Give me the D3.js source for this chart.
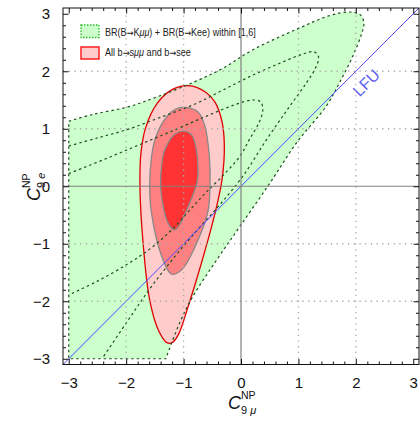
<!DOCTYPE html>
<html>
<head>
<meta charset="utf-8">
<title>C9 mu vs C9 e</title>
<script src="https://cdn.jsdelivr.net/npm/d3@7"></script>
<style>
  body { margin: 0; background: #fff; }
  svg { font-family: "Liberation Sans", Arial, sans-serif; }
  .tick text { font-size: 15px; fill: #111; }
  .tick line { stroke: #111; }
  .arrow { font-family: "DejaVu Sans", sans-serif; }
</style>
</head>
<body>
<svg id="chart" width="420" height="425"></svg>
<script>
// ---- data ----
var majorTicks = [-3, -2, -1, 0, 1, 2, 3];
var gridValues = [-2, -1, 1, 2];
var lfuRange = [-3.1, 3.1];

// BR(B->K mu mu) + BR(B->K e e) band, curved part of the outline
var brOuter = [[-3,1.13],[-2.58,1.25],[-1.97,1.38],[-1.42,1.57],[-0.8,1.82],[-0.3,2.06],
  [0.2,2.37],[0.97,2.73],[1.55,2.97],[1.9,3.03],[2.08,2.98],[2.14,2.84],[2.1,2.65],
  [1.95,2.27],[1.72,1.81],[1.49,1.4],[0.97,0.76],[0.5,0.05],[-0.02,-0.7],[-0.45,-1.32],
  [-0.84,-1.92],[-1.07,-2.38],[-1.31,-3]];
var brCorner = [-3, -3];
var brContour2 = [[-3,0.7],[-2.5,0.84],[-1.97,0.99],[-1.4,1.2],[-0.8,1.43],[-0.3,1.68],
  [0.2,1.93],[0.7,2.15],[1.08,2.3],[1.27,2.34],[1.35,2.25],[1.3,2.06],[1.14,1.8],
  [0.82,1.35],[0.45,0.82],[0.05,0.2],[-0.35,-0.3],[-0.75,-0.75],[-1.15,-1.22],
  [-1.6,-1.8],[-2.0,-2.38],[-2.42,-3]];
var brContour3 = [[-3,0.22],[-2.4,0.46],[-1.8,0.71],[-1.2,0.96],[-0.6,1.22],[-0.1,1.42],
  [0.2,1.5],[0.34,1.47],[0.38,1.33],[0.32,1.12],[0.15,0.82],[-0.02,0.52],[-0.35,0.15],
  [-0.65,-0.15],[-0.95,-0.48],[-1.25,-0.8],[-1.6,-1.1],[-1.97,-1.35],[-2.5,-1.65],[-3,-1.89]];

// global fit, 3 / 2 / 1 sigma
var fit3 = [[-0.92,1.75],[-0.62,1.64],[-0.45,1.46],[-0.33,1.12],[-0.29,0.7],[-0.33,0.12],
  [-0.45,-0.46],[-0.69,-1.34],[-0.92,-2.09],[-1.09,-2.58],[-1.2,-2.72],[-1.29,-2.72],
  [-1.44,-2.5],[-1.59,-1.98],[-1.7,-1.05],[-1.76,0],[-1.74,0.6],[-1.66,1.02],[-1.46,1.44],[-1.2,1.68]];
var fit2 = [[-0.95,1.37],[-0.75,1.29],[-0.63,1.05],[-0.55,0.5],[-0.54,0],[-0.58,-0.46],
  [-0.8,-1.05],[-1.03,-1.45],[-1.21,-1.53],[-1.38,-1.22],[-1.56,-0.46],[-1.59,0],
  [-1.56,0.5],[-1.49,0.84],[-1.3,1.2],[-1.12,1.35]];
var fit1 = [[-1.0,0.96],[-0.86,0.89],[-0.79,0.7],[-0.75,0.3],[-0.77,0.05],[-0.92,-0.35],
  [-1.09,-0.7],[-1.16,-0.76],[-1.26,-0.66],[-1.34,-0.42],[-1.4,0],[-1.38,0.38],
  [-1.33,0.62],[-1.18,0.88]];

// ---- drawing ----
var svg = d3.select("#chart");
var x = d3.scaleLinear().domain([-3.1, 3.1]).range([63, 419]);
var y = d3.scaleLinear().domain([-3.1, 3.1]).range([364.5, 8]);

var openLine = d3.line().x(function(d) { return x(d[0]); }).y(function(d) { return y(d[1]); })
  .curve(d3.curveCatmullRom.alpha(0.5));
var closedLine = d3.line().x(function(d) { return x(d[0]); }).y(function(d) { return y(d[1]); })
  .curve(d3.curveCatmullRomClosed.alpha(0.5));

var brPath = openLine(brOuter) + "L" + x(brCorner[0]) + "," + y(brCorner[1]) + "Z";
svg.append("path").attr("d", brPath).attr("fill", "#ccffcc").attr("stroke", "none");

svg.append("path").attr("d", closedLine(fit3)).attr("fill", "#ffcccc")
   .attr("stroke", "#e00000").attr("stroke-width", 1.3);
svg.append("path").attr("d", closedLine(fit2)).attr("fill", "#ff8080")
   .attr("stroke", "#888").attr("stroke-width", 1.3);
svg.append("path").attr("d", closedLine(fit1)).attr("fill", "#ff3333")
   .attr("stroke", "#888").attr("stroke-width", 1.3);

// dashed contours
[brPath, openLine(brContour2), openLine(brContour3)].forEach(function(p) {
  svg.append("path").attr("d", p).attr("fill", "none")
     .attr("stroke", "#1f4f1f").attr("stroke-width", 1.2)
     .attr("stroke-dasharray", "2.5,3");
});

// LFU line
svg.append("line")
   .attr("x1", x(lfuRange[0])).attr("y1", y(lfuRange[0]))
   .attr("x2", x(lfuRange[1])).attr("y2", y(lfuRange[1]))
   .attr("stroke", "#4a4aff").attr("stroke-width", 1);
svg.append("text")
   .attr("transform", "translate(" + x(2.18) + "," + y(1.8) + ") rotate(-45)")
   .attr("text-anchor", "middle").attr("dy", "0.35em")
   .attr("font-size", 16).attr("fill", "#5a5af0").text("LFU");

// grid lines (dotted) and zero lines
gridValues.forEach(function(v) {
  svg.append("line").attr("x1", x(v)).attr("x2", x(v)).attr("y1", y.range()[0]).attr("y2", y.range()[1])
     .attr("stroke", "#aaa").attr("stroke-width", 1.3).attr("stroke-dasharray", "1.3,4.4");
  svg.append("line").attr("y1", y(v)).attr("y2", y(v)).attr("x1", x.range()[0]).attr("x2", x.range()[1])
     .attr("stroke", "#aaa").attr("stroke-width", 1.3).attr("stroke-dasharray", "1.3,4.4");
});
svg.append("line").attr("x1", x(0)).attr("x2", x(0)).attr("y1", y.range()[0]).attr("y2", y.range()[1])
   .attr("stroke", "#808080").attr("stroke-width", 1.2);
svg.append("line").attr("y1", y(0)).attr("y2", y(0)).attr("x1", x.range()[0]).attr("x2", x.range()[1])
   .attr("stroke", "#808080").attr("stroke-width", 1.2);

// frame axes with inward ticks
var minorTicks = d3.range(-15, 16).map(function(i) { return i / 5; })
  .filter(function(v) { return Math.abs(v - Math.round(v)) > 1e-6; });

function frameAxis(gen, scale, tf, withLabels) {
  var gMaj = svg.append("g").attr("transform", tf)
    .call(gen(scale).tickValues(majorTicks).tickSize(-5.5).tickPadding(13)
      .tickFormat(withLabels ? d3.format("d") : function() { return ""; }));
  gMaj.select(".domain").remove();
  var gMin = svg.append("g").attr("transform", tf)
    .call(gen(scale).tickValues(minorTicks).tickSize(-3).tickFormat(function() { return ""; }));
  gMin.select(".domain").remove();
}
frameAxis(d3.axisBottom, x, "translate(0," + y.range()[0] + ")", true);
frameAxis(d3.axisTop, x, "translate(0," + y.range()[1] + ")", false);
frameAxis(d3.axisLeft, y, "translate(" + x.range()[0] + ",0)", true);
frameAxis(d3.axisRight, y, "translate(" + x.range()[1] + ",0)", false);

svg.append("rect")
   .attr("x", x.range()[0]).attr("y", y.range()[1])
   .attr("width", x.range()[1] - x.range()[0]).attr("height", y.range()[0] - y.range()[1])
   .attr("fill", "none").attr("stroke", "#111").attr("stroke-width", 1);

// axis titles
function axisTitle(g, sub) {
  g.append("text").attr("x", 0).attr("y", 0).attr("font-size", 18)
   .attr("font-style", "italic").attr("fill", "#111").text("C");
  g.append("text").attr("x", 13).attr("y", -10).attr("font-size", 10.5)
   .attr("fill", "#111").text("NP");
  var s = g.append("text").attr("x", 13).attr("y", 5).attr("font-size", 11).attr("fill", "#111");
  s.append("tspan").text("9 ");
  s.append("tspan").attr("font-style", "italic").text(sub);
}
axisTitle(svg.append("g").attr("transform", "translate(228,409)"), "\u03bc");
axisTitle(svg.append("g").attr("transform", "translate(40,201) rotate(-90)"), "e");

// legend
var legend = svg.append("g").attr("class", "legend");
legend.append("rect").attr("x", 81).attr("y", 25).attr("width", 18).attr("height", 12.5)
      .attr("fill", "#ccffcc").attr("stroke", "#22bb22").attr("stroke-width", 1.3)
      .attr("stroke-dasharray", "1.5,1.5");
legend.append("rect").attr("x", 81).attr("y", 47).attr("width", 18).attr("height", 12)
      .attr("fill", "#ffcccc").attr("stroke", "#ff2020").attr("stroke-width", 1.5);

// squeeze each entry horizontally to the width it has in the picture
function legendText(yPos, width, parts) {
  var g = legend.append("g");
  var t = g.append("text").attr("x", 0).attr("y", 0).attr("font-size", 10.5).attr("fill", "#222");
  parts.forEach(function(p) {
    var s = t.append("tspan").text(p[0]);
    if (p[1] === "i") s.attr("font-style", "italic");
    if (p[1] === "a") s.attr("class", "arrow").attr("font-size", 9.5);
  });
  var k = width / t.node().getComputedTextLength();
  g.attr("transform", "translate(105," + yPos + ") scale(" + k + ",1)");
}
legendText(36, 151, [["BR(B"], ["\u2192", "a"], ["K"], ["\u03bc\u03bc", "i"],
  [") + BR(B"], ["\u2192", "a"], ["Kee) within [1,6]"]]);
legendText(56, 86, [["All b"], ["\u2192", "a"], ["s"], ["\u03bc\u03bc", "i"],
  [" and b"], ["\u2192", "a"], ["see"]]);
</script>
</body>
</html>
